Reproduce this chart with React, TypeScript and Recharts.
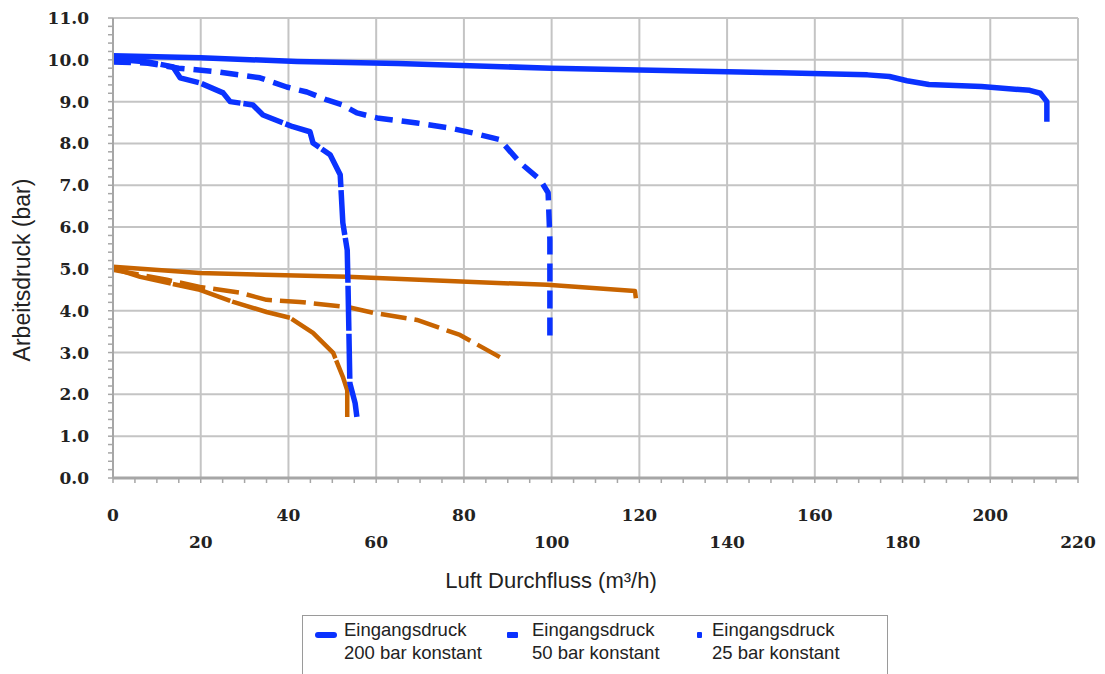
import { LineChart, Line, XAxis, YAxis, CartesianGrid, Label } from 'recharts';

// flow (m³/h) and working pressure (bar)
const blue200Flow = [0, 20, 42, 65, 100, 143, 152, 172, 177, 181, 186, 198, 209, 211.4, 212.9, 212.9];
const blue200Bar = [10.1, 10.05, 9.96, 9.91, 9.8, 9.71, 9.69, 9.64, 9.6, 9.5, 9.41, 9.36, 9.27, 9.2, 9.0, 8.52];

const blue50Flow = [0, 8, 15, 24, 33.5, 39.6, 44.2, 48.8, 52.4, 55.6, 60.2, 69.3, 76.8, 82.1, 88.2, 92.8, 97.4, 99.2, 99.6, 99.6];
const blue50Bar = [9.95, 9.92, 9.8, 9.71, 9.57, 9.35, 9.23, 9.04, 8.92, 8.73, 8.61, 8.49, 8.37, 8.25, 8.09, 7.54, 7.13, 6.82, 5.7, 3.3];

const blue25Flow = [0, 8, 13.7, 15.3, 19.8, 25.1, 26.7, 31.9, 34.2, 41, 44.9, 45.6, 49.5, 51.8, 52.4, 53.4, 53.6, 54, 55.2, 55.6];
const blue25Bar = [10.02, 9.95, 9.83, 9.57, 9.45, 9.21, 9.0, 8.92, 8.68, 8.4, 8.28, 8.01, 7.73, 7.25, 6.1, 5.45, 4.5, 2.27, 1.79, 1.46];

const orange200Flow = [0, 19.8, 53.4, 80.7, 99, 119, 119.2];
const orange200Bar = [5.05, 4.9, 4.81, 4.69, 4.62, 4.47, 4.3];

const orange50Flow = [0, 12.3, 19.8, 29, 35, 42.6, 53.4, 59.3, 69.3, 79.1, 88.2];
const orange50Bar = [4.98, 4.74, 4.57, 4.43, 4.26, 4.21, 4.09, 3.95, 3.78, 3.42, 2.89];

const orange25Flow = [0, 6.2, 19.8, 27.4, 35, 40.4, 45.6, 50.2, 52.4, 53.4, 53.4];
const orange25Bar = [5.02, 4.81, 4.5, 4.21, 3.97, 3.83, 3.47, 2.99, 2.42, 2.1, 1.46];

const xMajor = [0, 20, 40, 60, 80, 100, 120, 140, 160, 180, 200, 220];
const yMajor = [0, 1, 2, 3, 4, 5, 6, 7, 8, 9, 10, 11];
const xMinor = Array.from({ length: 45 }, (_, i) => i * 5);
const yMinor = Array.from({ length: 56 }, (_, i) => +(i * 0.2).toFixed(1));

const legendLabels = ['200 bar konstant', '50 bar konstant', '25 bar konstant'];

const BLUE = '#0a32ff';
const ORANGE = '#c86400';
const TICK_FONT = '"DejaVu Serif", serif';
const SANS = '"Liberation Sans", Arial, sans-serif';

const pts = (xs: number[], ys: number[]) => xs.map((x, i) => ({ x, y: ys[i] }));

function XTick(props: any) {
  const { x, y, payload } = props;
  const v = payload.value;
  if (v % 20 !== 0) return null;
  const odd = (v / 20) % 2 === 1;
  return (
    <text x={x} y={y + (odd ? 63 : 36)} textAnchor="middle" fontFamily={TICK_FONT} fontWeight="bold" fontSize={17} fill="#222">
      {v}
    </text>
  );
}

function YTick(props: any) {
  const { x, y, payload } = props;
  const v = payload.value;
  if (Math.abs(v - Math.round(v)) > 1e-6) return null;
  return (
    <text x={x} y={y + 6} textAnchor="end" fontFamily={TICK_FONT} fontWeight="bold" fontSize={17} fill="#222">
      {v.toFixed(1)}
    </text>
  );
}

const lineProps = { type: 'linear' as const, dataKey: 'y', dot: false, activeDot: false, isAnimationActive: false, strokeLinejoin: 'round' as const };

export default function App() {
  return (
    <div style={{ position: 'absolute', left: 0, top: 0, width: 1105, height: 674, overflow: 'hidden', background: '#fff' }}>
      <LineChart width={1105} height={610} margin={{ top: 18, right: 27, left: 0, bottom: 0 }}>
        <CartesianGrid
          stroke="#c4c4c4"
          strokeWidth={2}
          verticalCoordinatesGenerator={({ xAxis, offset }: any) =>
            xMajor.map(v => (typeof xAxis?.scale === 'function' ? xAxis.scale(v) : offset.left + (v / 220) * offset.width))
          }
          horizontalCoordinatesGenerator={({ yAxis, offset }: any) =>
            yMajor.map(v => (typeof yAxis?.scale === 'function' ? yAxis.scale(v) : offset.top + (1 - v / 11) * offset.height))
          }
        />
        <XAxis
          type="number"
          dataKey="x"
          domain={[0, 220]}
          ticks={xMinor}
          interval={0}
          height={132}
          tickSize={5}
          tickMargin={2}
          tick={<XTick />}
          axisLine={{ stroke: '#a6a6a6', strokeWidth: 3 }}
          tickLine={{ stroke: '#a6a6a6', strokeWidth: 1.5 }}
        >
          <Label
            content={() => (
              <text x={551} y={588} textAnchor="middle" fontFamily={SANS} fontSize={22} fill="#222">
                Luft Durchfluss (m³/h)
              </text>
            )}
          />
        </XAxis>
        <YAxis
          type="number"
          domain={[0, 11]}
          ticks={yMinor}
          interval={0}
          width={113}
          tickSize={5}
          tickMargin={19}
          tick={<YTick />}
          axisLine={{ stroke: '#a6a6a6', strokeWidth: 2 }}
          tickLine={{ stroke: '#a6a6a6', strokeWidth: 1.5 }}
        >
          <Label
            content={() => (
              <text x={22} y={270} transform="rotate(-90 22 270)" textAnchor="middle" dominantBaseline="central" fontFamily={SANS} fontSize={23} fill="#222">
                Arbeitsdruck (bar)
              </text>
            )}
          />
        </YAxis>
        <Line {...lineProps} data={pts(orange25Flow, orange25Bar)} stroke={ORANGE} strokeWidth={4.5} strokeDasharray="60 2" />
        <Line {...lineProps} data={pts(orange50Flow, orange50Bar)} stroke={ORANGE} strokeWidth={4.5} strokeDasharray="26 8" />
        <Line {...lineProps} data={pts(orange200Flow, orange200Bar)} stroke={ORANGE} strokeWidth={4.5} />
        <Line {...lineProps} data={pts(blue25Flow, blue25Bar)} stroke={BLUE} strokeWidth={5.5} strokeDasharray="45 3" />
        <Line {...lineProps} data={pts(blue50Flow, blue50Bar)} stroke={BLUE} strokeWidth={5.5} strokeDasharray="18 9" />
        <Line {...lineProps} data={pts(blue200Flow, blue200Bar)} stroke={BLUE} strokeWidth={5.5} />
      </LineChart>

      <div style={{ position: 'absolute', left: 302, top: 615, width: 584, height: 80, border: '1.5px solid #9a9a9a', background: '#fff' }} />
      {legendLabels.map((label, i) => {
        const markerLeft = [315, 507, 697][i];
        const markerWidth = [22, 11, 5][i];
        const textLeft = [344, 532, 712][i];
        return (
          <div key={label}>
            <div style={{ position: 'absolute', left: markerLeft, top: 632, width: markerWidth, height: 6, borderRadius: i === 0 ? 3 : 1, background: BLUE }} />
            <div style={{ position: 'absolute', left: textLeft, top: 618, fontFamily: SANS, fontSize: 18.5, lineHeight: '23px', color: '#222', whiteSpace: 'nowrap' }}>
              Eingangsdruck
              <br />
              {label}
            </div>
          </div>
        );
      })}
    </div>
  );
}
